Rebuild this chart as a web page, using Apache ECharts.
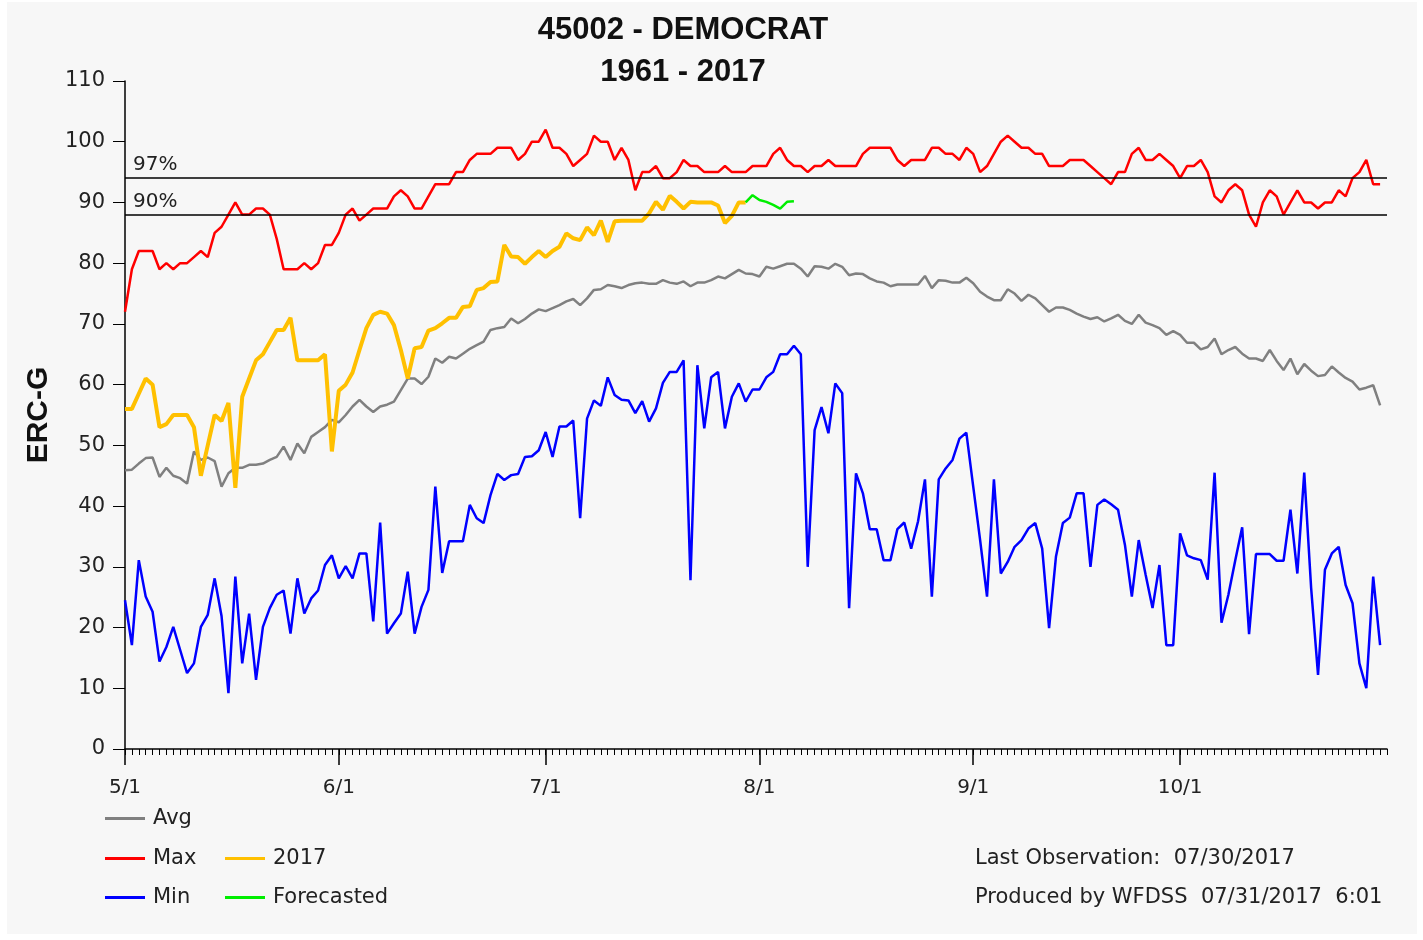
<!DOCTYPE html>
<html>
<head>
<meta charset="utf-8">
<script src="https://cdn.jsdelivr.net/npm/echarts@6/dist/echarts.min.js"></script>
<style>
html,body{margin:0;padding:0;background:#fff;}
#chart{width:1423px;height:940px;}
</style>
</head>
<body>
<div id="chart"></div>
<script>
// ---- axis / tick label data ----
const monthNums = [5, 6, 7, 8, 9, 10];
const monthDays = [31, 30, 31, 31, 30, 31];
const monthLabels = ['5/1', '6/1', '7/1', '8/1', '9/1', '10/1'];
const yTicks = [0, 10, 20, 30, 40, 50, 60, 70, 80, 90, 100, 110];
const pct97 = 94;
const pct90 = 88;

// ---- series data (daily values from 5/1) ----
const avgValues = [
45.9,46,47,47.9,48,44.8,46.3,45,44.6,43.7,
49,47.6,48,47.4,43.2,45.4,46.3,46.3,46.8,46.8,
47,47.6,48.1,49.8,47.6,50.3,48.7,51.4,52.2,53,
54.2,53.8,55,56.4,57.5,56.4,55.5,56.4,56.7,57.2,
59.1,61,61,60.1,61.3,64.3,63.6,64.6,64.3,65.1,
65.9,66.5,67.1,69,69.3,69.5,70.9,70.1,70.8,71.7,
72.4,72.1,72.6,73.1,73.7,74.1,73.1,74.2,75.6,75.7,
76.4,76.2,75.9,76.4,76.7,76.8,76.6,76.6,77.2,76.8,
76.6,77,76.2,76.8,76.8,77.2,77.8,77.5,78.2,78.9,
78.3,78.2,77.8,79.4,79.1,79.5,79.9,79.9,79.1,77.8,
79.5,79.4,79.1,79.9,79.4,78,78.3,78.2,77.5,77,
76.8,76.2,76.5,76.5,76.5,76.5,77.9,75.9,77.2,77.1,
76.8,76.8,77.6,76.7,75.3,74.5,73.9,73.9,75.7,75,
73.8,74.8,74.2,73.1,72,72.7,72.7,72.3,71.7,71.2,
70.8,71.1,70.4,70.9,71.5,70.5,70,71.5,70.2,69.8,
69.3,68.2,68.8,68.2,66.9,66.9,65.8,66.2,67.6,65,
65.7,66.2,65.1,64.3,64.3,63.9,65.7,63.9,62.4,64.3,
61.7,63.4,62.3,61.4,61.6,63,62,61.1,60.5,59.2,
59.5,59.9,56.6
];
const maxValues = [
72,79,82,82,82,79,80,79,80,80,
81,82,81,85,86,88,90,88,88,89,
89,88,84,79,79,79,80,79,80,83,
83,85,88,89,87,88,89,89,89,91,
92,91,89,89,91,93,93,93,95,95,
97,98,98,98,99,99,99,97,98,100,
100,102,99,99,98,96,97,98,101,100,
100,97,99,97,92,95,95,96,94,94,
95,97,96,96,95,95,95,96,95,95,
95,96,96,96,98,99,97,96,96,95,
96,96,97,96,96,96,96,98,99,99,
99,99,97,96,97,97,97,99,99,98,
98,97,99,98,95,96,98,100,101,100,
99,99,98,98,96,96,96,97,97,97,
96,95,94,93,95,95,98,99,97,97,
98,97,96,94,96,96,97,95,91,90,
92,93,92,88,86,90,92,91,88,90,
92,90,90,89,90,90,92,91,94,95,
97,93,93
];
const minValues = [
24.5,17.1,31.1,25.1,22.6,14.4,16.8,20.1,16.3,12.5,
14.1,20.1,22.1,28.1,21.9,9.2,28.4,14.1,22.3,11.4,
20.1,23.2,25.4,26.1,19,28.1,22.3,24.8,26.1,30.3,
31.9,28.1,30.1,28.1,32.2,32.2,21,37.3,19,20.7,
22.3,29.2,19,23.4,26.2,43.2,29,34.2,34.2,34.2,
40.2,38,37.2,41.8,45.3,44.3,45.1,45.3,48.1,48.2,
49.2,52.2,48.1,53.1,53.1,54.1,38,54.4,57.4,56.5,
61.2,58.3,57.5,57.4,55.3,57.3,53.9,56.1,60.3,62.1,
62.1,64,27.8,63.2,52.8,61.2,62.1,52.8,58,60.2,
57.2,59.2,59.2,61.2,62.1,65,65,66.4,65,30,
52.5,56.3,52,60.2,58.6,23.2,45.4,42.1,36.2,36.2,
31.1,31.1,36.2,37.3,33,37.5,44.4,25.1,44.4,46.2,
47.6,51.1,52.1,43.2,34.4,25.1,44.4,28.9,30.8,33.3,
34.4,36.3,37.2,33,19.9,31.7,37.2,38.1,42.1,42.1,
30,40.2,41.1,40.3,39.4,33.6,25.1,34.4,28.7,23.2,
30.3,17.1,17.1,35.5,31.9,31.4,31.1,27.9,45.5,20.8,
25.4,31.1,36.5,18.9,32.1,32.1,32.1,31,31,39.4,
28.9,45.5,26.5,12.2,29.5,32.2,33.3,27,24,14.1,
10,28.4,17.1
];
const values2017 = [
56,56,58.5,61,60,53,53.5,55,55,55,
53,45,50,55,54,57,43,58,61,64,
65,67,69,69,71,64,64,64,64,65,
49,59,60,62,65.7,69.3,71.5,72,71.7,69.8,
65.7,61,66,66.2,68.9,69.3,70.1,71,71,72.8,
72.9,75.6,75.9,76.9,77,83,81.1,81,79.9,81,
82,81,82,82.7,84.9,84.1,83.8,85.9,84.6,87,
83.5,86.9,87,87,87,87,88.2,90.1,88.8,91.1,
90.1,89,90.1,90,90,90,89.5,86.6,87.8,90,
90
];
const forecastStart = 90;
const forecastValues = [90, 91.2, 90.4, 90.1, 89.6, 89, 90.1, 90.2];

// ---- build category axis ----
const categories = [];
monthNums.forEach((m, i) => {
  for (let d = 1; d <= monthDays[i]; d++) categories.push(m + '/' + d);
});
const isMonthStart = (idx, val) => monthLabels.indexOf(val) >= 0;

const FONT = 'DejaVu Sans';
const chart = echarts.init(document.getElementById('chart'), null, {renderer: 'canvas'});

const legendBase = {
  orient: 'horizontal', icon: 'rect', itemWidth: 40, itemHeight: 3,
  padding: 0, selectedMode: false,
  textStyle: {fontFamily: FONT, fontSize: 21, color: '#222', padding: [0, 0, 0, 3]}
};

chart.setOption({
  animation: false,
  backgroundColor: '#ffffff',
  graphic: [{
    type: 'rect', z: -10, silent: true,
    shape: {x: 7, y: 2, width: 1410, height: 932},
    style: {fill: '#f7f7f7'}
  }],
  title: [
    {text: '45002 - DEMOCRAT\n1961 - 2017', left: 678, top: 4, textAlign: 'center',
     textStyle: {fontFamily: 'Liberation Sans', fontWeight: 'bold', fontSize: 31, lineHeight: 42, color: '#111'}},
    {text: 'Last Observation:  07/30/2017', left: 970, top: 843,
     textStyle: {fontFamily: FONT, fontWeight: 'normal', fontSize: 21, color: '#222'}},
    {text: 'Produced by WFDSS  07/31/2017  6:01', left: 970, top: 882,
     textStyle: {fontFamily: FONT, fontWeight: 'normal', fontSize: 21, color: '#222'}}
  ],
  legend: [
    Object.assign({}, legendBase, {data: ['Avg'], left: 105, top: 808}),
    Object.assign({}, legendBase, {data: ['Max'], left: 105, top: 848}),
    Object.assign({}, legendBase, {data: ['2017'], left: 225, top: 848}),
    Object.assign({}, legendBase, {data: ['Min'], left: 105, top: 887}),
    Object.assign({}, legendBase, {data: ['Forecasted'], left: 225, top: 887})
  ],
  grid: {left: 125, right: 36, top: 81, bottom: 191, containLabel: false},
  xAxis: [
    {type: 'category', data: categories, boundaryGap: false,
     axisLine: {lineStyle: {color: '#000', width: 1.5}},
     axisTick: {interval: 0, length: 6, lineStyle: {color: '#000', width: 1}},
     axisLabel: {show: false}, splitLine: {show: false}},
    {type: 'category', data: categories, boundaryGap: false, position: 'bottom',
     axisLine: {show: false},
     axisTick: {interval: isMonthStart, length: 16, lineStyle: {color: '#000', width: 1.5}},
     axisLabel: {interval: isMonthStart, margin: 29, fontFamily: FONT, fontSize: 20, color: '#222'},
     splitLine: {show: false}}
  ],
  yAxis: {
    type: 'value', min: yTicks[0], max: yTicks[yTicks.length - 1], interval: 10,
    name: 'ERC-G', nameLocation: 'middle', nameRotate: 90, nameGap: 63,
    nameTextStyle: {fontFamily: 'Liberation Sans', fontWeight: 'bold', fontSize: 30, color: '#111'},
    axisLine: {show: true, lineStyle: {color: '#000', width: 1.5}},
    axisTick: {show: true, length: 12, lineStyle: {color: '#000', width: 1}},
    axisLabel: {margin: 20, fontFamily: FONT, fontSize: 21, color: '#222'},
    splitLine: {show: false}
  },
  series: [
    {name: 'Avg', type: 'line', data: avgValues, symbol: 'none', z: 2,
     lineStyle: {color: '#808080', width: 2.5}, itemStyle: {color: '#808080'},
     markLine: {
       silent: true, symbol: 'none', animation: false,
       lineStyle: {color: '#000', type: 'solid', width: 1.5},
       label: {position: 'insideStartTop', fontFamily: FONT, fontSize: 20, color: '#222', distance: [8, 3]},
       data: [
         {yAxis: pct97, label: {formatter: '97%'}},
         {yAxis: pct90, label: {formatter: '90%'}}
       ]
     }},
    {name: 'Max', type: 'line', data: maxValues, symbol: 'none', z: 3,
     lineStyle: {color: '#ff0000', width: 2.5}, itemStyle: {color: '#ff0000'}},
    {name: 'Min', type: 'line', data: minValues, symbol: 'none', z: 3,
     lineStyle: {color: '#0000ff', width: 2.5}, itemStyle: {color: '#0000ff'}},
    {name: '2017', type: 'line', data: values2017, symbol: 'none', z: 4,
     lineStyle: {color: '#ffc000', width: 4}, itemStyle: {color: '#ffc000'}},
    {name: 'Forecasted', type: 'line', symbol: 'none', z: 5,
     data: forecastValues.map((v, i) => [forecastStart + i, v]),
     lineStyle: {color: '#00ee00', width: 2.5}, itemStyle: {color: '#00ee00'}}
  ]
});
</script>
</body>
</html>
